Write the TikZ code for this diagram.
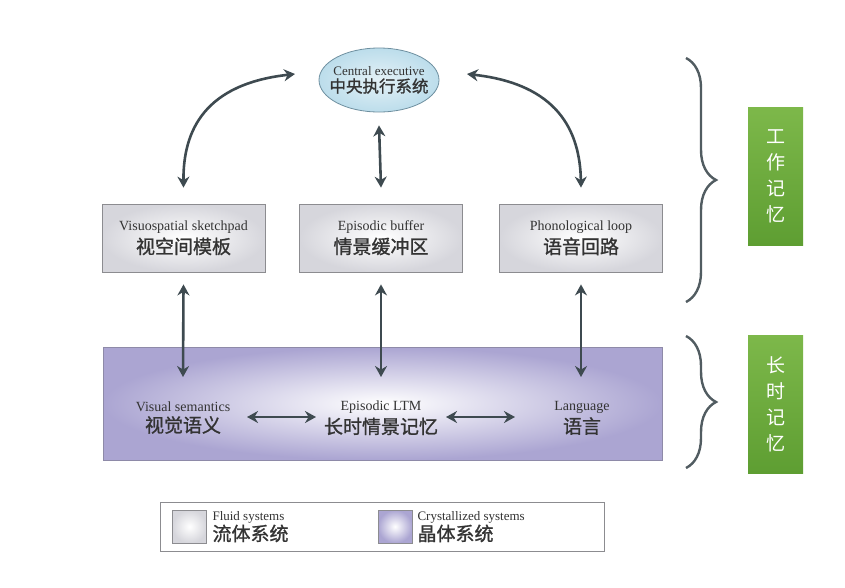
\documentclass[tikz,border=0pt]{standalone}
\usepackage{fontspec}
\setmainfont{Liberation Serif}
\newfontfamily\cjk[AutoFakeBold=1.2]{Noto Sans CJK SC}
\usetikzlibrary{shapes.geometric,arrows.meta,decorations.pathreplacing}
\definecolor{arr}{HTML}{3E4A50}
\definecolor{txt}{HTML}{333333}
\definecolor{boxedge}{HTML}{8C8C90}
\definecolor{boxout}{HTML}{D6D6DC}
\definecolor{ltmout}{HTML}{ABA5D2}
\definecolor{ltmedge}{HTML}{8E8AA8}
\definecolor{elout}{HTML}{BCDDEB}
\definecolor{eledge}{HTML}{6F90A0}
\definecolor{gtop}{HTML}{7DB84A}
\definecolor{gbot}{HTML}{5E9E32}
\newcommand{\en}{\fontsize{14}{16}\selectfont}
\newcommand{\zh}{\cjk\bfseries\fontsize{19}{21}\selectfont}
\tikzset{
  wm/.style={draw=boxedge, line width=0.8pt, inner color=white, outer color=boxout, minimum width=163pt, minimum height=68pt, align=center, text=txt},
  dbl/.style={draw=arr, line width=2.6pt, {Stealth[length=11pt,width=12pt]}-{Stealth[length=11pt,width=12pt]}},
  tag/.style={draw=none, top color=gtop, bottom color=gbot, minimum width=55pt, minimum height=138pt, text=white, font=\cjk\fontsize{19}{26}\selectfont, align=center},
  brc/.style={draw=arr!90, line width=2.4pt, decorate, decoration={brace, amplitude=30pt, aspect=0.5}}
}
\begin{document}
\begin{tikzpicture}[x=1pt,y=-1pt]
\useasboundingbox (0,0) rectangle (845,587);
\fill[white] (0,0) rectangle (845,587);

% central executive
\node[ellipse, draw=eledge, line width=0.8pt, inner color=white!60!elout, outer color=elout, minimum width=120pt, minimum height=64pt, inner sep=0pt] (ce) at (379,80) {};
\node[align=center, text=txt] (cet) at (ce.center)
  {\fontsize{13}{15}\selectfont Central executive\\[2pt]{\cjk\bfseries\fontsize{16.5}{18}\selectfont 中央执行系统}};

% working memory boxes
\node[wm] (vs) at (183.5,238) {\en Visuospatial sketchpad\\[3pt]{\zh 视空间模板}};
\node[wm] (eb) at (381,238) {\en Episodic buffer\\[3pt]{\zh 情景缓冲区}};
\node[wm] (pl) at (581,238) {\en Phonological loop\\[3pt]{\zh 语音回路}};

% long-term memory box
\node[draw=ltmedge, line width=0.8pt, inner color=white, outer color=ltmout, minimum width=559pt, minimum height=113pt] (ltm) at (382.5,403.5) {};
\node[align=center, text=txt] (vsem) at (183,418) {\en Visual semantics\\[3pt]{\zh 视觉语义}};
\node[align=center, text=txt] (eltm) at (381,418) {\en Episodic LTM\\[3pt]{\zh 长时情景记忆}};
\node[align=center, text=txt] (lang) at (582,418) {\en Language\\[3pt]{\zh 语言}};

% arrows
\coordinate (cl) at (295,74);
\coordinate (cr) at (467,74);
\draw[dbl] (cl) .. controls (205,84) and (183,130) .. ([yshift=16pt]vs.north);
\draw[dbl] (cr) .. controls (557,84) and (580,130) .. ([yshift=16pt]pl.north);
\draw[dbl] ([yshift=-13pt]ce.south) -- ([yshift=16pt]eb.north);

\coordinate (va) at (183,377);
\coordinate (vb) at (381,377);
\coordinate (vc) at (581,377);
\draw[dbl] ([yshift=-12pt]vs.south) -- (va);
\draw[dbl] ([yshift=-12pt]eb.south) -- (vb);
\draw[dbl] ([yshift=-12pt]pl.south) -- (vc);

\coordinate (h1) at (247,417);
\coordinate (h2) at (316,417);
\coordinate (h3) at (446,417);
\coordinate (h4) at (515,417);
\draw[dbl] (h1) -- (h2);
\draw[dbl] (h3) -- (h4);

% legend
\node[draw=boxedge, line width=0.8pt, fill=white, minimum width=444pt, minimum height=49pt] (leg) at (382,526.5) {};
\node[draw=boxedge, line width=0.8pt, inner color=white, outer color=boxout, minimum width=34pt, minimum height=33pt] (lf) at (189.5,526.5) {};
\node[anchor=west, align=left, text=txt] (lft) at (209,527) {\fontsize{13}{15}\selectfont Fluid systems\\[0pt]{\zh 流体系统}};
\node[draw=boxedge, line width=0.8pt, inner color=white, outer color=ltmout, minimum width=34pt, minimum height=33pt] (lc) at (395,526.5) {};
\node[anchor=west, align=left, text=txt] (lct) at (414,527) {\fontsize{13}{15}\selectfont Crystallized systems\\[0pt]{\zh 晶体系统}};

% braces
\coordinate (b1t) at (686,58);
\coordinate (b1b) at (686,302);
\coordinate (b2t) at (686,336);
\coordinate (b2b) at (686,468);
\draw[brc] (b1t) -- (b1b);
\draw[brc] (b2t) -- (b2b);

% green tags
\node[tag] (wmtag) at (775.5,176) {工\\作\\记\\忆};
\node[tag] (ltmtag) at (775.5,404) {长\\时\\记\\忆};
\end{tikzpicture}
\end{document}
